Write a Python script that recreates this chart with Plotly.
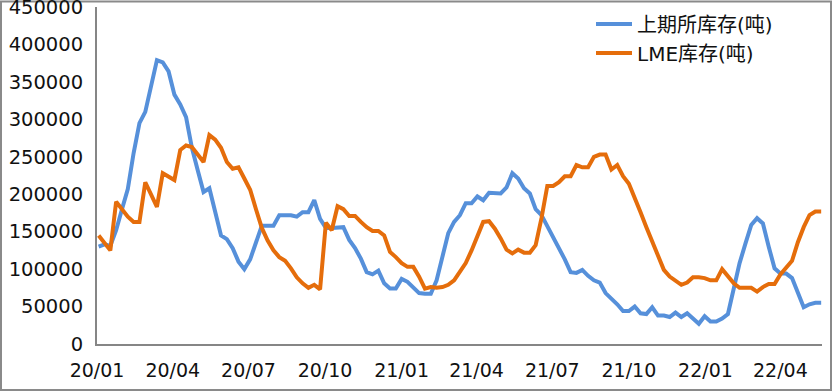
import pandas as pd
import plotly.graph_objects as go

# ---- data (weekly) ----
start_date = "2020-01-03"

shfe_stock = [
    130000, 133000, 131000, 152000, 180000, 207000, 255000, 295000, 310000, 342000,
    379000, 376000, 364000, 333000, 320000, 303000, 262000, 232000, 203000, 208000,
    178000, 145000, 140000, 128000, 110000, 100000, 113000, 135000, 158000, 158000,
    158000, 172000, 172000, 172000, 170000, 176000, 176000, 192000, 167000, 155000,
    155000, 156000, 156000, 139000, 128000, 114000, 96000, 93000, 98000, 81000,
    74000, 74000, 87000, 83000, 75000, 68000, 67000, 67000, 85000, 118000,
    148000, 163000, 172000, 188000, 188000, 197000, 192000, 202000, 202000, 201000,
    209000, 228000, 221000, 208000, 201000, 180000, 172000, 157000, 143000, 129000,
    113000, 96000, 95000, 99000, 91000, 85000, 82000, 68000, 61000, 53000,
    44000, 44000, 50000, 41000, 40000, 49000, 38000, 38000, 36000, 42000,
    36000, 41000, 34000, 27000, 37000, 30000, 30000, 34000, 40000, 72000,
    108000, 134000, 159000, 168000, 161000, 130000, 101000, 94000, 94000, 88000,
    68000, 49000, 53000, 55000, 55000,
]

lme_stock = [
    145000, 135000, 125000, 190000, 180000, 170000, 163000, 163000, 216000, 200000,
    183000, 228000, 224000, 219000, 259000, 265000, 263000, 253000, 243000, 279000,
    273000, 262000, 243000, 234000, 236000, 221000, 206000, 180000, 155000, 138000,
    125000, 116000, 111000, 101000, 89000, 81000, 75000, 79000, 73000, 162000,
    152000, 184000, 180000, 171000, 171000, 163000, 156000, 151000, 151000, 145000,
    123000, 116000, 108000, 103000, 103000, 90000, 74000, 76000, 75000, 76000,
    79000, 85000, 96000, 108000, 125000, 145000, 163000, 164000, 154000, 141000,
    126000, 121000, 126000, 122000, 122000, 132000, 168000, 211000, 211000, 216000,
    224000, 224000, 239000, 236000, 236000, 250000, 253000, 253000, 233000, 239000,
    224000, 214000, 196000, 176000, 156000, 136000, 119000, 99000, 90000, 84000,
    79000, 82000, 89000, 89000, 88000, 85000, 85000, 100000, 91000, 81000,
    75000, 75000, 75000, 70000, 76000, 80000, 80000, 93000, 103000, 111000,
    136000, 156000, 172000, 177000, 177000,
]

series_names = ["上期所库存(吨)", "LME库存(吨)"]

tick_dates = ["2020-01-01", "2020-04-01", "2020-07-01", "2020-10-01",
              "2021-01-01", "2021-04-01", "2021-07-01", "2021-10-01",
              "2022-01-01", "2022-04-01"]
tick_labels = ["20/01", "20/04", "20/07", "20/10", "21/01",
               "21/04", "21/07", "21/10", "22/01", "22/04"]

y_ticks = [0, 50000, 100000, 150000, 200000, 250000, 300000, 350000, 400000, 450000]

dates = pd.date_range(start_date, periods=len(shfe_stock), freq="7D")

BLUE = "#5690DA"
ORANGE = "#E56D0B"
FONT = "DejaVu Sans, Noto Sans CJK SC, sans-serif"

fig = go.Figure()
fig.add_trace(go.Scatter(x=dates, y=shfe_stock, mode="lines", name=series_names[0],
                         legendgroup="a",
                         line=dict(color=BLUE, width=4)))
fig.add_trace(go.Scatter(x=dates, y=lme_stock, mode="lines", name=series_names[1],
                         legendgroup="b",
                         line=dict(color=ORANGE, width=4)))

W, H = 834, 392
ml, mr, mt, mb = 97, 12, 6.5, 48
pw, ph = W - ml - mr, H - mt - mb

def px_x(p):
    return (p - ml) / pw

def px_y(p):
    return (H - mb - p) / ph

fig.update_layout(
    width=W, height=H,
    margin=dict(l=ml, r=mr, t=mt, b=mb, pad=0, autoexpand=False),
    paper_bgcolor="white", plot_bgcolor="white",
    font=dict(family=FONT, size=19, color="#111111"),
    showlegend=True,
    legend=dict(x=px_x(591), y=px_y(4), xanchor="left", yanchor="top",
                bgcolor="rgba(0,0,0,0)", font=dict(size=20),
                itemwidth=36,
                tracegroupgap=0, traceorder="grouped"),
    xaxis=dict(type="date", range=["2020-01-01", "2022-05-21"],
               tickvals=tick_dates, ticktext=tick_labels,
               showgrid=False, zeroline=False, showline=True,
               linecolor="#868686", linewidth=2, ticks="",
               automargin=False,
               ticklabelstandoff=8, fixedrange=True),
    yaxis=dict(range=[0, 450000], tickvals=y_ticks,
               ticktext=[str(v) for v in y_ticks],
               showgrid=False, zeroline=False, showline=True,
               linecolor="#868686", linewidth=2, ticks="",
               ticklabeloverflow="allow", automargin=False,
               tickfont=dict(size=19.5),
               ticklabelstandoff=8, fixedrange=True),
    shapes=[dict(type="rect", xref="paper", yref="paper",
                 x0=px_x(1), x1=px_x(831), y0=px_y(390), y1=px_y(1),
                 line=dict(color="#8A8A8A", width=2), fillcolor="rgba(0,0,0,0)",
                 layer="below")],
)

fig.write_html("out.html")
